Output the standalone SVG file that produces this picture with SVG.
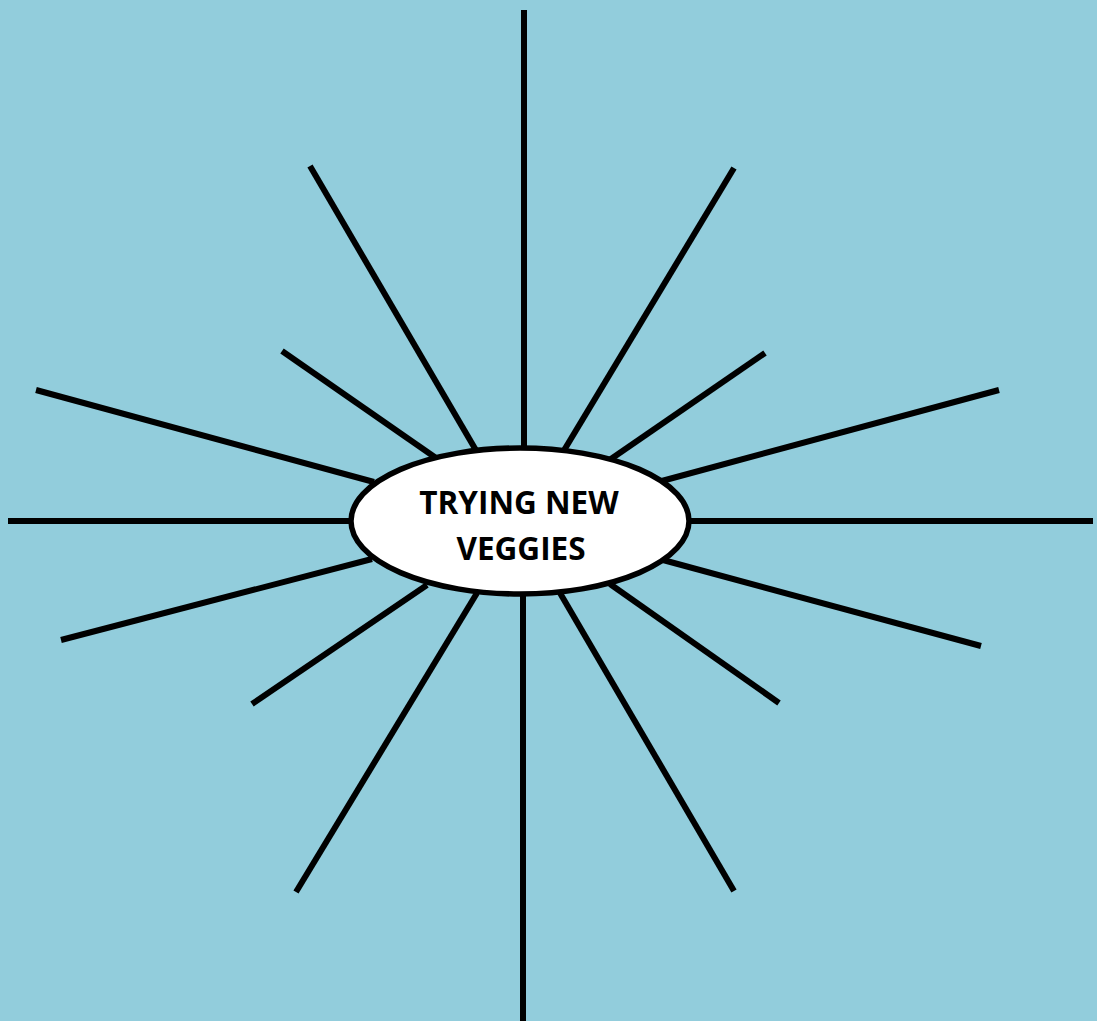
<svg xmlns="http://www.w3.org/2000/svg" width="1097" height="1021" viewBox="0 0 1097 1021">
<style>
.ray{stroke:#000;stroke-width:6;fill:none}
.node{fill:#fff;stroke:#000;stroke-width:5.5}
.lbl{font-family:"Open Sans","Liberation Sans",sans-serif;font-weight:bold;font-size:31.5px;fill:#000;text-anchor:middle}
</style>
<rect width="1097" height="1021" fill="#92CDDC"/>
<g id="connectors">
<line class="ray" x1="524" y1="10" x2="524" y2="450"/>
<line class="ray" x1="523" y1="592" x2="523" y2="1021"/>
<line class="ray" x1="8" y1="521" x2="352" y2="521"/>
<line class="ray" x1="688" y1="521" x2="1093" y2="521"/>
<line class="ray" x1="310" y1="166" x2="477" y2="452"/>
<line class="ray" x1="734" y1="168" x2="563" y2="452"/>
<line class="ray" x1="282" y1="351" x2="436" y2="458"/>
<line class="ray" x1="765" y1="353" x2="608" y2="461"/>
<line class="ray" x1="36" y1="390" x2="374" y2="482"/>
<line class="ray" x1="999" y1="390" x2="658" y2="482"/>
<line class="ray" x1="61" y1="640" x2="372" y2="559"/>
<line class="ray" x1="981" y1="646" x2="663" y2="560"/>
<line class="ray" x1="252" y1="704" x2="427" y2="585"/>
<line class="ray" x1="779" y1="703" x2="610" y2="584"/>
<line class="ray" x1="296" y1="892" x2="477" y2="593"/>
<line class="ray" x1="734" y1="891" x2="560" y2="593"/>
</g>
<g id="center">
<ellipse class="node" cx="520" cy="521" rx="169" ry="73"/>
<text class="lbl" x="519" y="514">TRYING NEW</text>
<text class="lbl" x="521" y="560">VEGGIES</text>
</g>
</svg>
